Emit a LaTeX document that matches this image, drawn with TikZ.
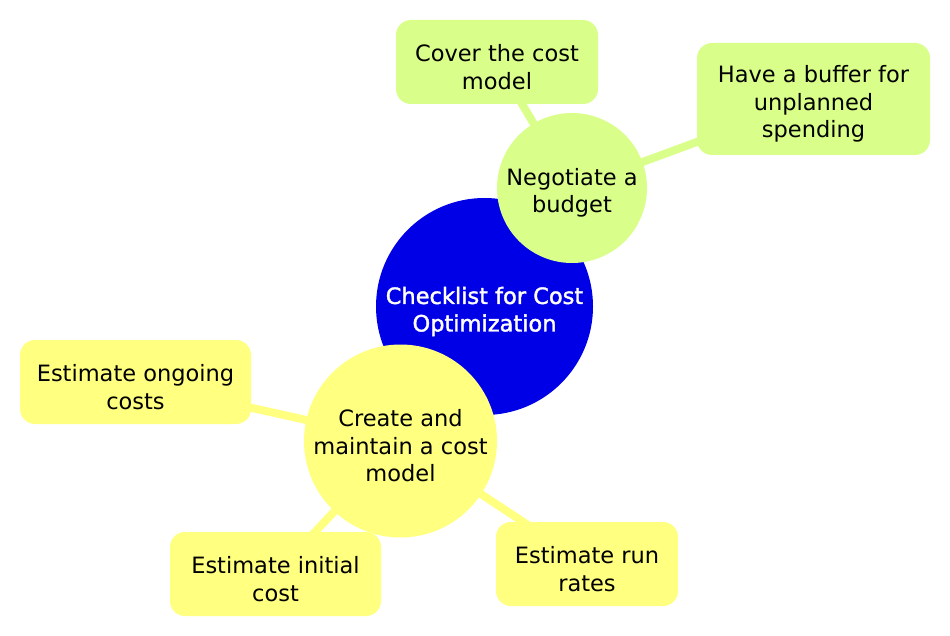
\documentclass[tikz,border=0pt]{standalone}
\usepackage{fontspec}
\setmainfont{DejaVu Sans}
\newfontfamily\rootfont[FakeBold=1.6]{DejaVu Sans}
\usetikzlibrary{backgrounds}
\definecolor{rootblue}{RGB}{0,0,230}
\definecolor{leafgreen}{RGB}{217,255,138}
\definecolor{leafyellow}{RGB}{255,255,128}
\tikzset{
  txt/.style={font=\fontsize{22.5}{27.5}\selectfont, align=center, text=black, inner sep=0pt},
  caption/.style={txt, yshift=-5pt},
  rootcaption/.style={caption, font=\rootfont\fontsize{22.5}{27.5}\selectfont, text=white},
  bubble/.style={circle, draw=none, inner sep=0pt},
  leafbox/.style={rectangle, rounded corners=15pt, draw=none, inner sep=0pt},
  link/.style={line width=8pt},
}
\begin{document}
\begin{tikzpicture}[x=1pt,y=-1pt]
\useasboundingbox (0,0) rectangle (950,636);
\node[bubble, fill=rootblue, minimum size=217pt,
  label={[rootcaption]center:{Checklist for Cost\\Optimization}}] (root) at (484.5,306.5) {};
\node[bubble, fill=leafgreen, minimum size=150pt,
  label={[caption]center:{Negotiate a\\budget}}] (neg) at (572,188) {};
\node[bubble, fill=leafyellow, minimum size=193pt,
  label={[caption]center:{Create and\\maintain a cost\\model}}] (create) at (400.5,441) {};
\node[leafbox, fill=leafgreen, minimum width=202pt, minimum height=84pt,
  label={[caption]center:{Cover the cost\\model}}] (cover) at (497,62) {};
\node[leafbox, fill=leafgreen, minimum width=233pt, minimum height=112pt,
  label={[caption]center:{Have a buffer for\\unplanned\\spending}}] (buffer) at (813.5,99) {};
\node[leafbox, fill=leafyellow, minimum width=231pt, minimum height=84pt,
  label={[caption]center:{Estimate ongoing\\costs}}] (ongoing) at (135.5,382) {};
\node[leafbox, fill=leafyellow, minimum width=211pt, minimum height=84pt,
  label={[caption]center:{Estimate initial\\cost}}] (initial) at (275.5,574) {};
\node[leafbox, fill=leafyellow, minimum width=182pt, minimum height=84pt,
  label={[caption]center:{Estimate run\\rates}}] (runrates) at (587,564) {};
\begin{scope}[on background layer]
\draw[link, leafgreen] (neg.center) -- (cover.center);
\draw[link, leafgreen] (neg.center) -- (buffer.center);
\draw[link, leafyellow] (create.center) -- (ongoing.center);
\draw[link, leafyellow] (create.center) -- (initial.center);
\draw[link, leafyellow] (create.center) -- (runrates.center);
\end{scope}
\end{tikzpicture}
\end{document}
